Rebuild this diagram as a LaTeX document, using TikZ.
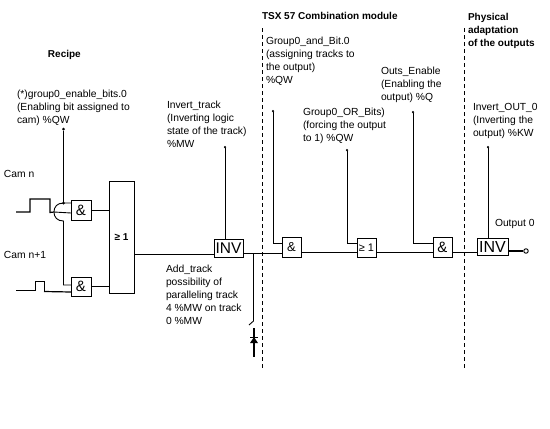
\documentclass[tikz,border=0pt]{standalone}
\usepackage{fontspec}
\setmainfont{Liberation Sans}
\begin{document}
\begin{tikzpicture}[x=1pt,y=-1pt,
  lbl/.style={anchor=north west,inner sep=0pt,outer sep=0pt,align=left,font=\fontsize{10.3}{13}\selectfont},
  hdr/.style={anchor=north west,inner sep=0pt,outer sep=0pt,align=left,font=\fontsize{10}{13}\selectfont\bfseries},
  gate/.style={draw,line width=1pt,fill=white,inner sep=0pt,outer sep=0pt,anchor=north west,font=\fontsize{15}{15}\selectfont},
  wire/.style={line width=.9pt},
  heavy/.style={line width=1.2pt},
  sep/.style={line width=1pt,dash pattern=on 4pt off 3pt},
  stub/.style={line width=.9pt},
  pin/.style={circle,fill=black,inner sep=0pt,minimum size=3pt},
  openpin/.style={circle,draw,fill=white,line width=.9pt,inner sep=0pt,minimum size=4.5pt}]
\useasboundingbox (0,0) rectangle (550,429);
\fill[white] (0,0) rectangle (550,429);

% separators
\coordinate (sepAt) at (262,28); \coordinate (sepAb) at (262,368);
\coordinate (sepBt) at (464.5,28); \coordinate (sepBb) at (464.5,368);
\draw[sep] (sepAt) -- (sepAb);
\draw[sep] (sepBt) -- (sepBb);

% gates
\node[gate,minimum width=20pt,minimum height=20pt] (and1) at (71,200) {\&};
\node[gate,minimum width=20pt,minimum height=19pt] (and2) at (71,277) {\&};
\node[gate,minimum width=25pt,minimum height=112pt,font=\fontsize{10}{10}\selectfont\bfseries] (orbig) at (109,181) {≥ 1};
\node[gate,minimum width=29pt,minimum height=18pt,font=\fontsize{15.5}{15.5}\selectfont] (inv1) at (214,239) {INV};
\node[gate,minimum width=19pt,minimum height=20pt,font=\fontsize{13}{13}\selectfont] (and3) at (282,237) {\&};
\node[gate,minimum width=19pt,minimum height=19pt,font=\fontsize{11}{11}\selectfont] (or2) at (357,238) {≥ 1};
\node[gate,minimum width=19pt,minimum height=20pt] (and4) at (433,237) {\&};
\node[gate,minimum width=31pt,minimum height=17pt,font=\fontsize{16}{16}\selectfont] (inv2) at (477,238) {INV};

% free ends
\node[pin] (enpin) at (63.5,129) {};
\node[pin,minimum size=2.5pt] (itpin) at (225,147) {};
\node[pin,minimum size=2.5pt] (gapin) at (273,111) {};
\node[pin,minimum size=2.5pt] (gopin) at (347,150) {};
\node[pin,minimum size=2.5pt] (oepin) at (413,112) {};
\node[pin,minimum size=2.5pt] (iopin) at (488,147) {};
\node[openpin] (outpin) at (526,251) {};
\coordinate (j1) at (63.5,203);
\coordinate (in1) at (71,203);
\coordinate (in2) at (71,285);
\coordinate (in1b) at (71,213);
\coordinate (in2b) at (71,292);
\coordinate (arcb) at (63.5,221);
\coordinate (arcl) at (54,212);
\coordinate (tap) at (253.5,253);
\coordinate (tapb) at (253.5,321);
\coordinate (tapc) at (249,325);
\coordinate (cont) at (254,328);
\coordinate (contb) at (254,357);

% cam n waveform
\coordinate (w1) at (16,212);
\draw[heavy] (w1) -- (30,212) -- (30,199) -- (50,199) -- (50,212.5) -- (arcl);
% cam n+1 waveform
\coordinate (w2) at (16,290);
\draw[wire] (w2) -- (35,290) -- (35,281) -- (44,281) -- (44,292);
\draw[heavy] (44,291.5) -- (in2b);
% bridge over
\draw[wire] (in1) -- (j1) .. controls (57,203) and (54,207) .. (arcl) .. controls (54,217) and (57,221) .. (arcb) -- (63.5,285) -- (in2);
\draw[wire] (arcl) -- (in1b);
\draw[wire] (enpin) -- (j1);
\fill (j1) circle (1.5pt);

% main wires
\draw[wire] (and1.east) -- (orbig.west |- and1.east);
\draw[wire] (and2.east) -- (orbig.west |- and2.east);
\draw[wire] (orbig.east |- 0,254) -- (inv1.west |- 0,254);
\draw[wire] (inv1.east |- 0,253) -- (and3.west |- 0,253);
\draw[wire] (and3.east |- 0,252) -- (or2.west |- 0,252);
\draw[wire] (or2.east |- 0,252) -- (and4.west |- 0,252);
\draw[wire] (and4.east |- 0,252) -- (inv2.west |- 0,252);
\draw[heavy] (inv2.east |- outpin) -- (outpin);
% control inputs
\draw[stub] (itpin) -- (inv1.north -| itpin);
\draw[stub] (gapin) |- (and3.west |- 0,243);
\draw[stub] (gopin) |- (or2.west |- 0,243);
\draw[stub] (oepin) |- (and4.west |- 0,243);
\draw[stub] (iopin) -- (inv2.north -| iopin);
% contact
\draw[wire] (tap) -- (tapb) -- (tapc);
\draw[heavy] (cont) -- (contb);
\draw[wire] (250,337) -- (258,337);
\fill (254,337) -- (258,343) -- (250,343) -- cycle;

% labels
\node[hdr] (trecipe) at (48,50) {Recipe};
\node[hdr] (ttsx) at (262,12) {TSX 57 Combination module};
\node[hdr] (tphys) at (468,13) {Physical\\adaptation\\of the outputs};
\node[lbl] (tgen) at (17,90) {(*)group0\_enable\_bits.0\\(Enabling bit assigned to\\cam) \%QW};
\node[lbl] (tit) at (167,101) {Invert\_track\\(Inverting logic\\state of the track)\\\%MW};
\node[lbl] (tcn) at (4,170) {Cam n};
\node[lbl] (tcn1) at (4,251) {Cam n+1};
\node[lbl] (tadd) at (166,265) {Add\_track\\possibility of\\paralleling track\\4 \%MW on track\\0 \%MW};
\node[lbl] (tgab) at (266,37) {Group0\_and\_Bit.0\\(assigning tracks to\\the output)\\\%QW};
\node[lbl] (tgob) at (303,108) {Group0\_OR\_Bits)\\(forcing the output\\to 1) \%QW};
\node[lbl] (toe) at (381,67) {Outs\_Enable\\(Enabling the\\output) \%Q};
\node[lbl] (tio) at (473,103) {Invert\_OUT\_0\\(Inverting the\\output) \%KW};
\node[lbl] (to0) at (495,219) {Output 0};
\end{tikzpicture}
\end{document}
